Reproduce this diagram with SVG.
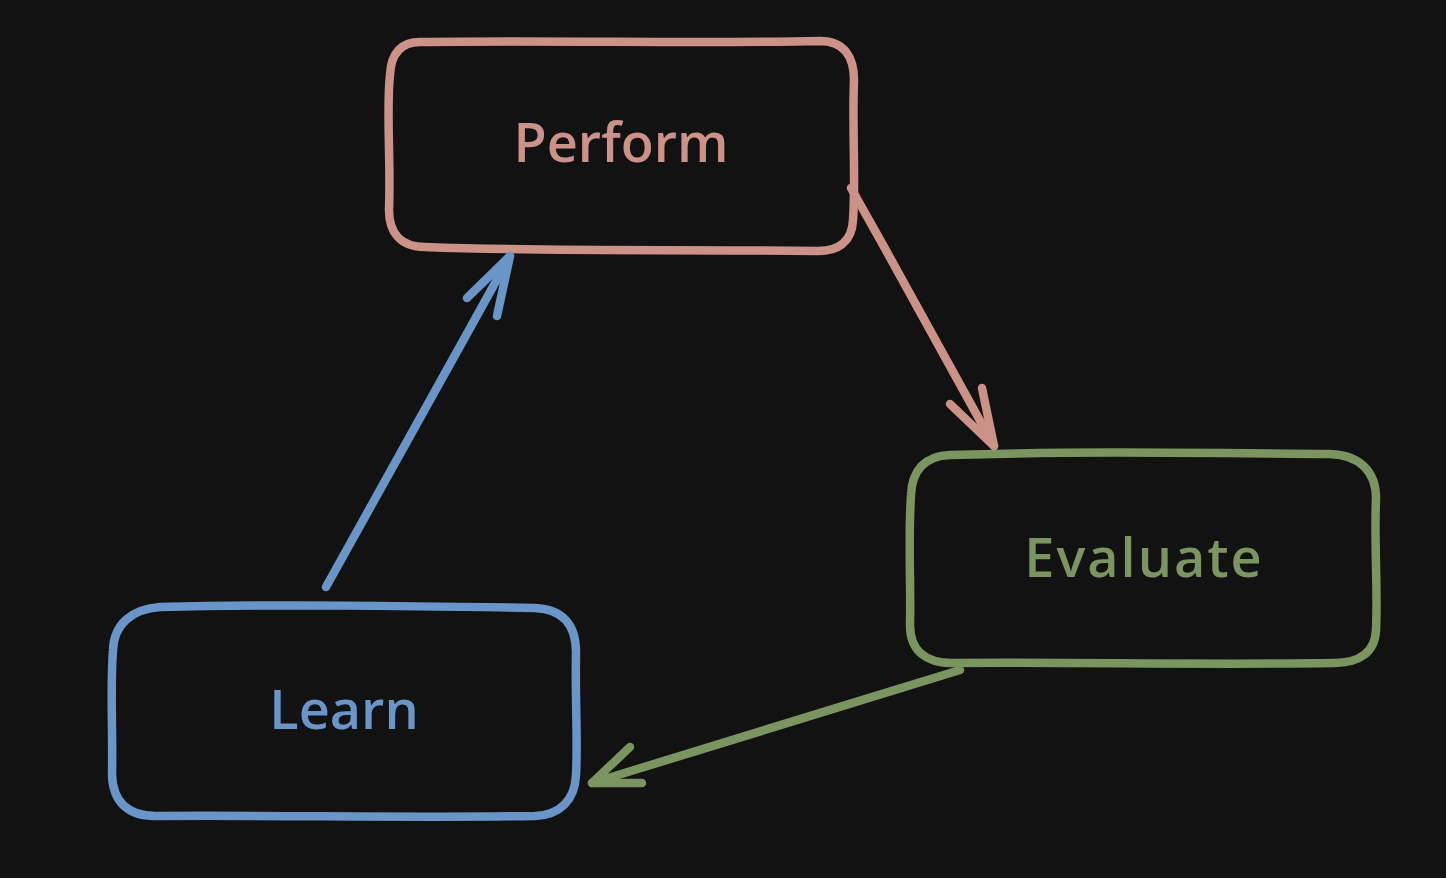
<svg xmlns="http://www.w3.org/2000/svg" width="1446" height="878" viewBox="0 0 1446 878">
<style>
.box{fill:#121212;stroke-width:8.5;stroke-linecap:round;stroke-linejoin:round}
.edge{fill:none;stroke-width:8.5;stroke-linecap:round;stroke-linejoin:round}
.lbl{font-family:"Open Sans","Liberation Sans",sans-serif;font-size:54px;font-weight:600;text-anchor:middle}
.pink{stroke:#cc9288}
.green{stroke:#7a9560}
.blue{stroke:#6a95c8}
</style>
<rect width="1446" height="878" fill="#121212"/>
<g id="perform">
<path class="box pink" d="M420 42 C560 40 700 44 820 41 C845 41 854 58 854 80 C852 130 856 180 853 220 C852 242 838 252 815 251 C680 249 560 252 425 247 C400 247 389 232 389 210 C391 160 386 110 390 75 C391 52 402 42 420 42 Z"/>
<text class="lbl" x="621" y="162" fill="#cc9288">Perform</text>
</g>
<g id="evaluate">
<path class="box green" d="M950 455 C1080 451 1200 453 1330 454 C1360 455 1376 472 1376 498 C1374 540 1378 590 1376 630 C1375 652 1360 663 1334 663 C1200 665 1080 662 952 663 C925 663 910 650 910 625 C911 580 908 540 911 495 C912 470 925 456 950 455 Z"/>
<path fill="none" class="green" stroke-width="4" stroke-linecap="round" d="M1150 662 C1200 661 1250 662 1300 663"/>
<text class="lbl" x="1144" y="577" fill="#7a9560" letter-spacing="2">Evaluate</text>
</g>
<g id="learn">
<path class="box blue" d="M160 607 C280 604 410 606 535 608 C562 609 576 624 576 652 C575 700 578 740 576 775 C575 800 560 815 535 816 C410 818 280 815 155 816 C128 816 113 802 112 775 C113 730 110 690 113 650 C114 624 132 609 160 607 Z"/>
<text class="lbl" x="344" y="729" fill="#6a95c8">Learn</text>
</g>
<g id="connectors">
<path class="edge pink" d="M851 188 C900 275 950 365 994 446"/>
<path class="edge pink" d="M950 404 L994 446 L982 388"/>
<path class="edge blue" d="M326 587 C390 470 450 365 510 256"/>
<path class="edge blue" d="M467 298 L510 256 L497 316"/>
<path class="edge green" stroke-width="11" d="M960 670 C840 707 720 744 592 783"/>
<path class="edge green" stroke-width="9" d="M630 747 L592 783 L642 783"/>
</g>
</svg>
